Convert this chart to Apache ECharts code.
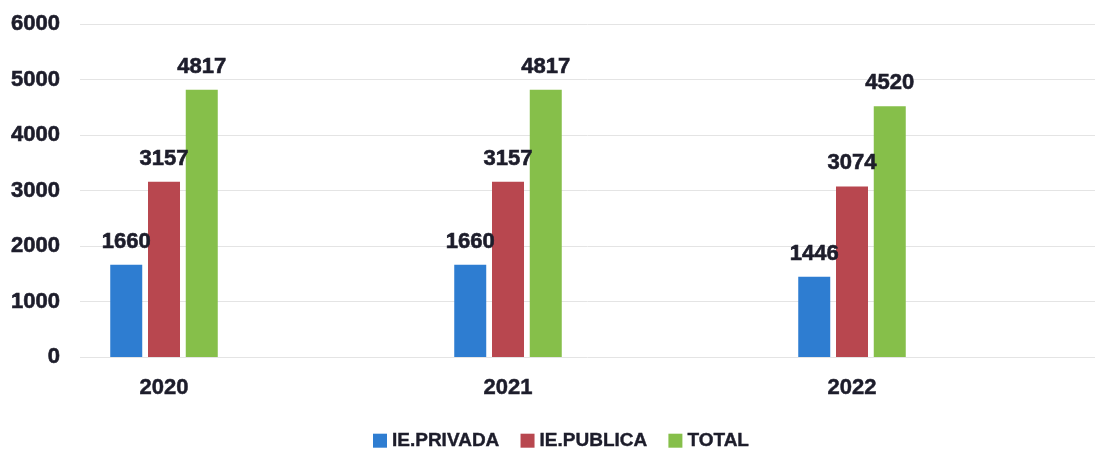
<!DOCTYPE html>
<html>
<head>
<meta charset="utf-8">
<script src="https://cdn.jsdelivr.net/npm/echarts@6/dist/echarts.min.js"></script>
<style>
  html, body { margin: 0; padding: 0; background: #fff; }
  #chart { width: 1101px; height: 450px; }
</style>
</head>
<body>
<div id="chart"></div>
<script>
  // datos del grafico
  var years = ['2020', '2021', '2022'];
  var privada = [1660, 1660, 1446];
  var publica = [3157, 3157, 3074];
  var total = [4817, 4817, 4520];
  var yTicks = [0, 1000, 2000, 3000, 4000, 5000, 6000];

  var txtColor = '#1d1d2b';
  var font = 'Liberation Sans, Arial, sans-serif';

  var labelStyle = {
    show: true,
    position: 'top',
    distance: 12,
    color: txtColor,
    fontFamily: font,
    fontWeight: 'bold',
    fontSize: 22,
    textBorderColor: txtColor,
    textBorderWidth: 0.6
  };

  function barSerie(name, data, color) {
    return {
      name: name,
      type: 'bar',
      xAxisIndex: 1,
      yAxisIndex: 1,
      data: data,
      barWidth: 32,
      barGap: '18%',
      itemStyle: { color: color },
      label: labelStyle
    };
  }

  var myChart = echarts.init(document.getElementById('chart'));
  myChart.setOption({
    animation: false,
    grid: [
      // rejilla para el eje y y las lineas
      { left: 80, right: 6, top: 24, bottom: 93, outerBoundsMode: 'none' },
      // rejilla para las barras (empieza un poco fuera del lienzo)
      { left: -8, right: 77, top: 24, bottom: 93, outerBoundsMode: 'none' }
    ],
    xAxis: [
      { gridIndex: 0, type: 'value', min: 0, max: 1, show: false },
      {
        gridIndex: 1,
        type: 'category',
        data: years,
        axisLine: { show: false },
        axisTick: { show: false },
        axisLabel: {
          margin: 20,
          color: txtColor,
          fontFamily: font,
          fontWeight: 'bold',
          fontSize: 22,
          textBorderColor: txtColor,
          textBorderWidth: 0.5
        }
      }
    ],
    yAxis: [
      {
        gridIndex: 0,
        type: 'value',
        min: yTicks[0],
        max: yTicks[yTicks.length - 1],
        interval: 1000,
        axisLine: { show: false },
        axisTick: { show: false },
        axisLabel: {
          margin: 20,
          formatter: function (v) { return String(v); },
          color: txtColor,
          fontFamily: font,
          fontWeight: 'bold',
          fontSize: 22,
          textBorderColor: txtColor,
          textBorderWidth: 0.6
        },
        splitLine: { lineStyle: { color: '#e4e4e4', width: 1 } }
      },
      {
        gridIndex: 1,
        type: 'value',
        min: yTicks[0],
        max: yTicks[yTicks.length - 1],
        interval: 1000,
        show: false
      }
    ],
    legend: {
      left: 368,
      top: 426,
      icon: 'rect',
      itemWidth: 14,
      itemHeight: 14,
      itemGap: 21,
      textStyle: {
        color: txtColor,
        fontFamily: font,
        fontWeight: 'bold',
        fontSize: 19,
        textBorderColor: txtColor,
        textBorderWidth: 0.4
      }
    },
    series: [
      barSerie('IE.PRIVADA', privada, '#2e7dd1'),
      barSerie('IE.PUBLICA', publica, '#b8474f'),
      barSerie('TOTAL', total, '#86bf4a')
    ]
  });
</script>
</body>
</html>
